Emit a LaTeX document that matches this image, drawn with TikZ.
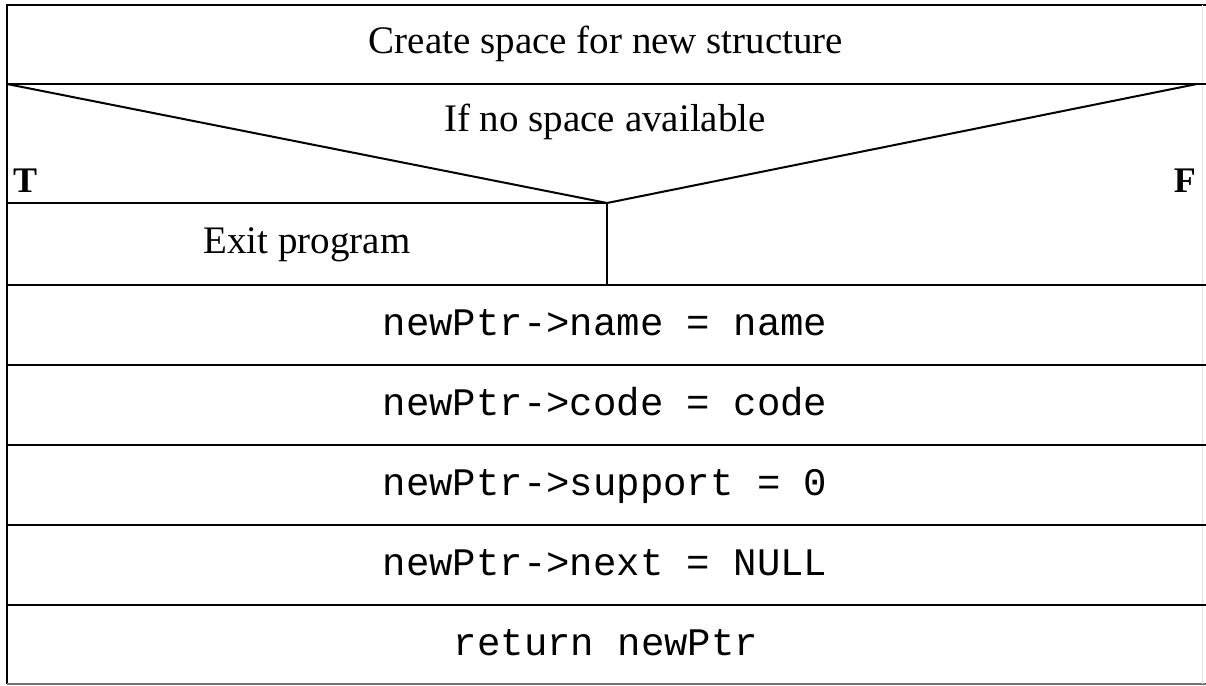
\documentclass[tikz,border=0pt]{standalone}
\usepackage{fontspec}
\setmainfont{Liberation Serif}
\setmonofont{Liberation Mono}
\begin{document}
\begin{tikzpicture}[x=1pt,y=-1pt,
  nsline/.style={line width=2pt, black},
  edgeline/.style={line width=1.2pt, black!55},
  label/.style={font=\fontsize{39}{47}\selectfont, anchor=base, inner sep=0pt},
  codetext/.style={font=\ttfamily\fontsize{39}{47}\selectfont, anchor=base, inner sep=0pt},
  branch/.style={font=\bfseries\fontsize{36}{43}\selectfont, inner sep=0pt}]
\useasboundingbox (0,0) rectangle (1206,685);
\fill[white] (0,0) rectangle (1206,685);

% corner and junction points of the chart
\coordinate (tl) at (7,5);
\coordinate (tr) at (1206,5);
\coordinate (bl) at (7,684);
\coordinate (br) at (1206,684);
\coordinate (dl) at (7,84);
\coordinate (dr) at (1206,84);
\coordinate (de) at (1197,84);
\coordinate (apex) at (607,203);
\coordinate (ml) at (7,203);
\coordinate (split) at (607,285);

% outer frame
\draw[nsline] (tr) -- (tl) -- (bl);
\draw[edgeline] (bl) -- (br);
\draw[black!12, line width=0.8pt] (1202,5) -- (1202,684);

% decision block
\draw[nsline] (dl) -- (dr);
\draw[nsline] (dl) -- (apex) -- (de);
\draw[nsline] (ml) -- (apex);
\draw[nsline] (apex) -- (split);

% row separators of the sequence
\foreach \y in {285,365,445,525,605}
  \draw[nsline] (7,\y) -- (1206,\y);

% texts
\node[label] (create) at (606,53) {Create space for new structure};
\node[label] (cond) at (605,131) {If no space available};
\node[branch, anchor=base west] (ttrue) at (13,192) {T};
\node[branch, anchor=base east] (ffalse) at (1196,192) {F};
\node[label] (exit) at (307,253) {Exit program};
\node[codetext] (c1) at (605,335) {newPtr->name = name};
\node[codetext] (c2) at (605,415) {newPtr->code = code};
\node[codetext] (c3) at (605,495) {newPtr->support = 0};
\node[codetext] (c4) at (605,575) {newPtr->next = NULL};
\node[codetext] (c5) at (606,655) {return newPtr};
\end{tikzpicture}
\end{document}
